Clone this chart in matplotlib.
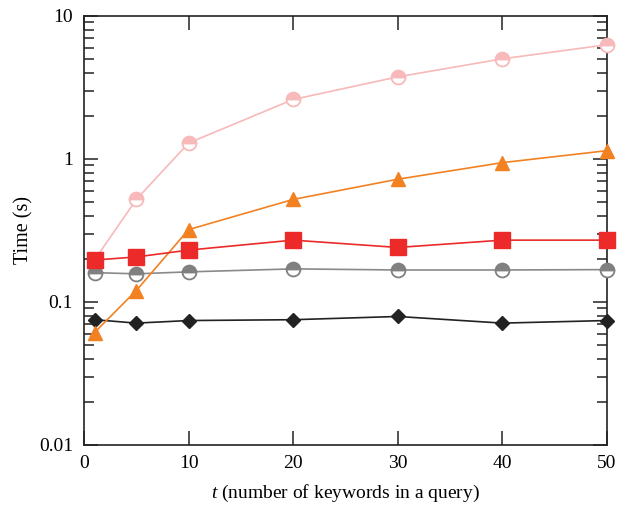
import numpy as np
import matplotlib
matplotlib.use("Agg")
import matplotlib.pyplot as plt
from matplotlib.ticker import LogLocator, FixedLocator, FixedFormatter, NullFormatter

plt.rcParams['font.family'] = ['Liberation Serif', 'DejaVu Serif']
plt.rcParams['mathtext.fontset'] = 'custom'
plt.rcParams['mathtext.it'] = 'Liberation Serif:italic'

t = [1, 5, 10, 20, 30, 40, 50]

pink_circle = [0.196, 0.52, 1.29, 2.6, 3.74, 5.0, 6.27]
orange_triangle = [0.061, 0.12, 0.32, 0.52, 0.72, 0.94, 1.14]
red_square = [0.196, 0.206, 0.23, 0.27, 0.24, 0.27, 0.27]
gray_circle = [0.16, 0.157, 0.162, 0.17, 0.167, 0.167, 0.168]
black_diamond = [0.075, 0.071, 0.074, 0.075, 0.079, 0.071, 0.074]

y_ticks = [0.01, 0.1, 1, 10]
y_tick_labels = ['0.01', '0.1', '1', '10']
x_ticks = [0, 10, 20, 30, 40, 50]

fig = plt.figure(figsize=(6.18, 5.09), dpi=100)
ax = fig.add_axes([0.136, 0.126, 0.846, 0.843])

ax.plot(t, pink_circle, color='#f7b9b9', lw=1.2, marker='o', ms=10,
        fillstyle='top', markerfacecolor='#f7b9b9', markerfacecoloralt='white',
        markeredgecolor='#f7b9b9', markeredgewidth=1.3, zorder=3, clip_on=False)
ax.plot(t, orange_triangle, color='#f28122', lw=1.2, marker='^', ms=10,
        markerfacecolor='#f28122', markeredgecolor='#f28122', zorder=4, clip_on=False)
ax.plot(t, red_square, color='#ec2a2a', lw=1.2, marker='s', ms=11,
        markerfacecolor='#ec2a2a', markeredgecolor='#ec2a2a', zorder=5, clip_on=False)
ax.plot(t, gray_circle, color='#8a8a8a', lw=1.2, marker='o', ms=10,
        fillstyle='top', markerfacecolor='#808080', markerfacecoloralt='white',
        markeredgecolor='#808080', markeredgewidth=1.3, zorder=3, clip_on=False)
ax.plot(t, black_diamond, color='#222222', lw=1.2, marker='D', ms=7,
        markerfacecolor='#222222', markeredgecolor='#222222', zorder=3, clip_on=False)

ax.set_yscale('log')
ax.set_ylim(0.01, 10)
ax.set_xlim(0, 50)

ax.yaxis.set_major_locator(FixedLocator(y_ticks))
ax.yaxis.set_major_formatter(FixedFormatter(y_tick_labels))
ax.yaxis.set_minor_locator(LogLocator(base=10, subs=np.arange(2, 10)))
ax.yaxis.set_minor_formatter(NullFormatter())
ax.set_xticks(x_ticks)

ax.tick_params(which='both', direction='in', top=True, right=True,
               labelsize=14, color='#333333')
ax.tick_params(which='major', length=10, width=1.2)
ax.tick_params(which='minor', length=7, width=1.2)
ax.tick_params(axis='x', pad=7)
ax.tick_params(axis='y', pad=8)

for s in ax.spines.values():
    s.set_linewidth(1.2)
    s.set_color('#222222')

ax.set_ylabel('Time (s)', fontsize=14.5, labelpad=4)
ax.set_xlabel(r'$t$ (number of keywords in a query)', fontsize=14, labelpad=8)

fig.savefig('out.png', dpi=100)
